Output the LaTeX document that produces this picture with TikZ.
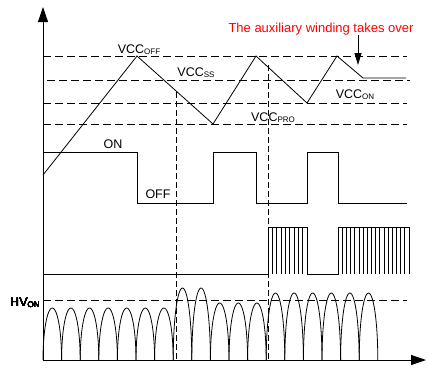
\documentclass[tikz,border=0pt]{standalone}
\usepackage{fontspec}
\setmainfont{Liberation Sans}
\usetikzlibrary{arrows.meta}
\newcommand{\low}[1]{\raisebox{-1.2pt}{\fontsize{8}{8}\selectfont #1}}

\begin{document}
\begin{tikzpicture}[x=1pt, y=1pt, line width=0.8pt, font=\fontsize{12.5}{14}\selectfont,
  lvl/.style={dash pattern=on 8pt off 4pt, line width=0.7pt},
  cut/.style={dash pattern=on 6pt off 3pt, line width=0.7pt},
  lab/.style={anchor=base, inner sep=0pt}]
\newcommand{\hump}[2]{% left end, height
  \draw plot[domain=0:180, samples=31, smooth, variable=\t] ({#1+9.3-9.3*cos(\t)}, {#2*sin(\t)});}
\useasboundingbox (-43,-8) rectangle (384,360);
% axes
\draw[-{Triangle[length=15pt,width=10pt]}] (0,0) -- (0,353);
\draw[-{Triangle[length=15pt,width=10pt]}] (0,0) -- (383,0);
% thresholds
\foreach \y/\a/\b in {304/0/364, 280/4/367, 257/0/364, 236/0/364, 60/0/364}
  \draw[lvl] (\a,\y) -- (\b,\y);
\draw[cut] (133,268) -- (133,0);
\draw[cut] (225,295) -- (225,0);
% VCC
\draw (0,185) -- (94,304) -- (170,236) -- (213,304) -- (264,257) -- (294,304) -- (320,282) -- (363,282);
\node[lab] (off) at (96,307) {VCC\low{OFF}};
\node[lab] (ss) at (153,284) {VCC\low{SS}};
\node[lab] (on) at (312,262) {VCC\low{ON}};
\node[lab] (pro) at (230,239) {VCC\low{PRO}};
% state
\draw (0,208) -| (94,157) -| (170,208) -| (213,157) -| (264,208) -| (295,157) -- (364,157);
\node[lab] (onstate) at (70,212) {ON};
\node[lab] (offstate) at (115,162) {OFF};
% gate
\draw (0,86) -| (225,133) -| (264,86) -| (295,133) -| (366,86);
\foreach \i in {1,...,8} \draw (225+\i*4.33,133) -- (225+\i*4.33,86);
\foreach \i in {1,...,16} \draw (295+\i*4.18,133) -- (295+\i*4.18,86);
% HV
\foreach \h [count=\i from 0] in {52,52,52,52,52,52,52,72,72,57,57,57,67,67,67,67,67,67}
  \hump{\i*18.6}{\h}
\node[lab, anchor=base east] (hv) at (-3,54) {HV\low{ON}};
% note
\node[lab, text=red, font=\fontsize{13}{15}\selectfont] (note) at (278,328) {The auxiliary winding takes over};
\coordinate (takeover) at (315,295);
\draw[-{Triangle[length=12pt,width=7pt]}] (note.south -| takeover) -- (takeover);
\end{tikzpicture}
\end{document}
